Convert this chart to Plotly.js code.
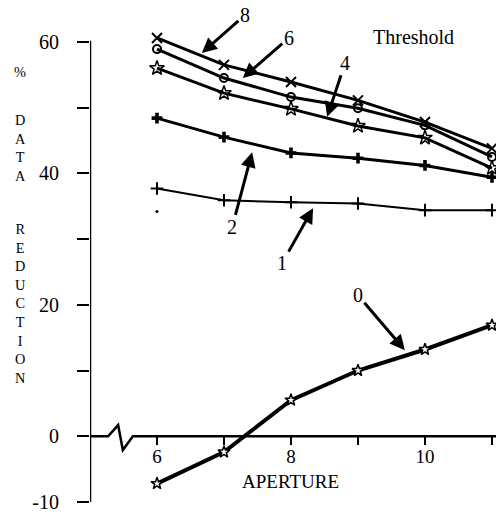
<!DOCTYPE html>
<html>
<head>
<meta charset="utf-8">
<script src="https://cdn.plot.ly/plotly-3.0.1.min.js"></script>
<style>html,body{margin:0;padding:0;background:#fff;}#chart{width:496px;height:514px;}</style>
</head>
<body>
<div id="chart"></div>
<script>
// ---- data ----
const aperture = [6, 7, 8, 9, 10, 11];
const threshold8 = [60.6, 56.5, 53.9, 51.1, 47.8, 43.8];
const threshold6 = [58.9, 54.5, 51.6, 49.9, 47.3, 42.5];
const threshold4 = [56.0, 52.2, 49.8, 47.2, 45.4, 40.8];
const threshold2 = [48.4, 45.5, 43.1, 42.3, 41.2, 39.4];
const threshold1 = [37.7, 35.9, 35.6, 35.4, 34.4, 34.4];
const threshold0 = [-7.2, -2.4, 5.5, 10.0, 13.2, 16.9];
const strayX = [6];
const strayY = [34.2];
const yTickVals = [-10, 0, 10, 20, 30, 40, 50, 60];
const yTickText = ['-10', '0', '', '20', '', '40', '', '60'];
const xTickVals = [6, 7, 8, 9, 10, 11];
const xTickText = ['6', '', '8', '', '10', ''];
const seriesLabels = ['8', '6', '4', '2', '1', '0'];
const titleGroups = [['%'], ['D', 'A', 'T', 'A'], ['R', 'E', 'D', 'U', 'C', 'T', 'I', 'O', 'N']];

const FONT = 'Liberation Serif, Times New Roman, serif';
const W = 496, H = 514;
const L = 90, R = 0, T = 32, B = 12;
const plotH = H - T - B;
const plotW = W - L - R;
const px2x = p => (p - L) / plotW;
const py2y = p => (H - B - p) / plotH;

function line(y, w, sym, size, lw, fill) {
  return {
    x: aperture, y: y, type: 'scatter', mode: 'lines+markers', cliponaxis: false,
    line: {color: '#000', width: w},
    marker: {symbol: sym, size: size, color: fill || '#000', line: {color: '#000', width: lw}},
    showlegend: false, hoverinfo: 'skip'
  };
}
const traces = [
  line(threshold8, 3, 'x-thin-open', 10, 2),
  line(threshold6, 3, 'circle-open', 8, 2),
  line(threshold4, 3, 'star-open', 11, 1.5),
  line(threshold2, 3, 'cross', 9, 0),
  line(threshold1, 2, 'cross-thin-open', 9, 2),
  line(threshold0, 4, 'star', 9, 1.5, '#fff'),
  {x: strayX, y: strayY, type: 'scatter', mode: 'markers', marker: {color: '#000', size: 3}, showlegend: false, hoverinfo: 'skip'}
];

// arrow annotations: head at data point, text offset in pixels
const arrowHeads = [
  {x: 6.67, y: 58.3, ax: 43, ay: -38},
  {x: 7.28, y: 54.5, ax: 46, ay: -40},
  {x: 8.54, y: 48.6, ax: 18, ay: -54},
  {x: 7.42, y: 43.2, ax: -20, ay: 75},
  {x: 8.33, y: 34.7, ax: -31, ay: 55},
  {x: 9.70, y: 13.1, ax: -47, ay: -55}
];
const annotations = arrowHeads.map((a, i) => ({
  x: a.x, y: a.y, xref: 'x', yref: 'y', ax: a.ax, ay: a.ay,
  text: seriesLabels[i], showarrow: true, arrowhead: 2, arrowsize: 1, arrowwidth: 3,
  arrowcolor: '#000', font: {family: FONT, size: 20, color: '#000'}
}));

annotations.push({
  text: 'Threshold', xref: 'paper', yref: 'paper',
  x: px2x(413), y: py2y(37), xanchor: 'center', yanchor: 'middle',
  showarrow: false, font: {family: FONT, size: 20, color: '#000'}
});
annotations.push({
  text: 'APERTURE', xref: 'paper', yref: 'paper',
  x: px2x(290), y: py2y(481), xanchor: 'center', yanchor: 'middle',
  showarrow: false, font: {family: FONT, size: 19, color: '#000'}
});

// vertical stacked y-axis title (three groups)
const groupTopPy = [72, 120, 229];
titleGroups.forEach((g, i) => {
  annotations.push({
    text: g.join('<br>'), xref: 'paper', yref: 'paper',
    x: px2x(20), y: py2y(groupTopPy[i] - 10),
    xanchor: 'center', yanchor: 'top', align: 'center', showarrow: false,
    font: {family: FONT, size: 14.3, color: '#000'}
  });
});

const layout = {
  width: W, height: H,
  margin: {l: L, r: R, t: T, b: B, pad: 0},
  paper_bgcolor: '#fff', plot_bgcolor: '#fff',
  font: {family: FONT, size: 20, color: '#000'},
  xaxis: {
    range: [5, 11.06], anchor: 'free', position: 10 / 71.5,
    showline: false, showgrid: false, zeroline: false,
    tickvals: xTickVals, ticktext: xTickText,
    ticks: 'outside', ticklen: 8, tickwidth: 2, tickcolor: '#000',
    ticklabelstandoff: -5,
    tickfont: {family: FONT, size: 19, color: '#000'}
  },
  yaxis: {
    range: [-10, 61.5], showline: false,
    showgrid: false, zeroline: false,
    tickvals: yTickVals, ticktext: yTickText,
    ticks: 'outside', ticklen: 12, tickwidth: 2, tickcolor: '#000',
    ticklabelstandoff: 14,
    tickfont: {family: FONT, size: 20, color: '#000'}
  },
  shapes: [
    {
      type: 'path', xref: 'x', yref: 'y',
      path: 'M 5,0 L 5.27,0 L 5.42,1.7 L 5.49,-2.1 L 5.64,0 L 11.06,0',
      line: {color: '#000', width: 2.5}
    },
    {
      type: 'line', xref: 'x', yref: 'y', x0: 5, x1: 5, y0: -10.15, y1: 60.15,
      line: {color: '#000', width: 2.5}
    }
  ],
  annotations: annotations
};

Plotly.newPlot('chart', traces, layout, {displayModeBar: false, staticPlot: true});
</script>
</body>
</html>
